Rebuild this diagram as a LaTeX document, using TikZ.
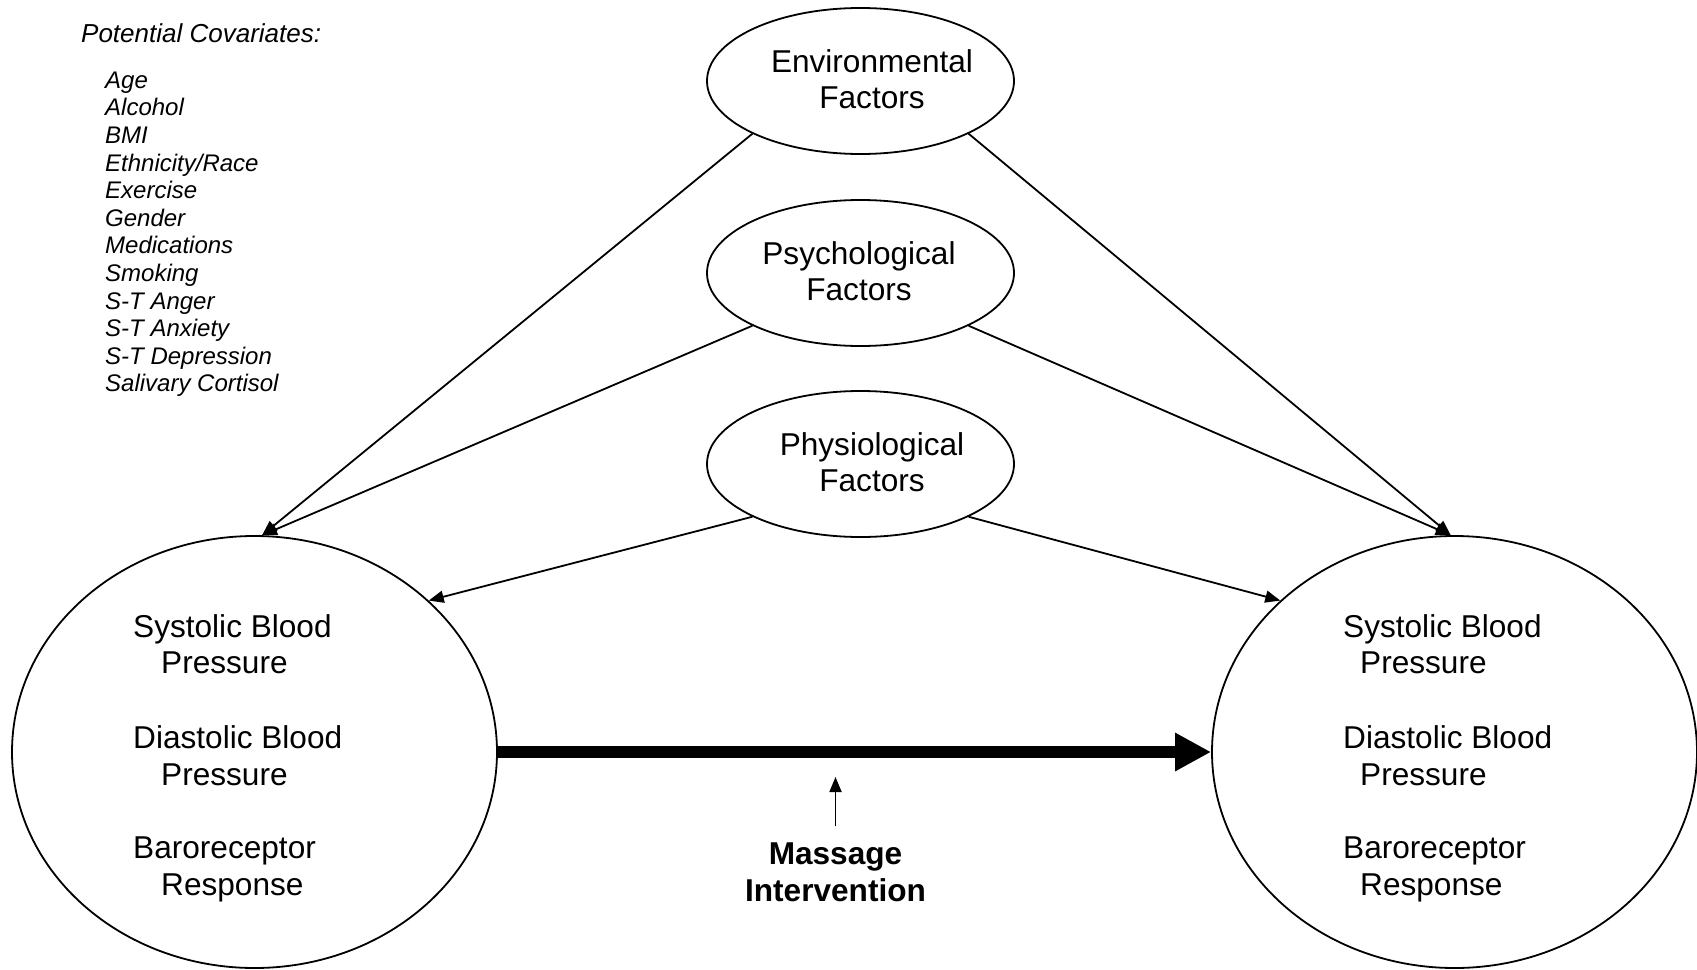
\documentclass[tikz,border=0pt]{standalone}
\usepackage{fontspec}
\setmainfont{Liberation Sans}
\usetikzlibrary{shapes.geometric,arrows.meta}
\begin{document}
\begin{tikzpicture}[x=1pt,y=-1pt,
  ell/.style={draw, ellipse, line width=1.8pt, inner sep=0pt},
  small/.style={ell, minimum width=307pt, minimum height=146pt},
  big/.style={ell, minimum width=485pt, minimum height=432pt},
  lbl/.style={inner sep=0pt, anchor=base, font=\fontsize{31.6}{34}\selectfont},
  lbll/.style={inner sep=0pt, anchor=base west, font=\fontsize{31.6}{34}\selectfont},
  covh/.style={inner sep=0pt, anchor=base west, font=\fontsize{26}{28}\selectfont\itshape},
  cov/.style={inner sep=0pt, anchor=base west, font=\fontsize{24}{27}\selectfont\itshape},
  thinarr/.style={line width=1.8pt, -{Triangle[length=15pt,width=12pt]}},
  thickarr/.style={line width=12.3pt, -{Triangle[length=36pt,width=36pt]}},
]
\useasboundingbox (0,0) rectangle (1697,969);

% ellipses
\node[small] (env) at (860.5,81) {};
\node[small] (psy) at (860.5,273) {};
\node[small] (phy) at (860.5,464) {};
\node[big] (pre) at (254.5,752) {};
\node[big] (post) at (1454.5,752) {};

% ellipse labels
\node[lbl] (envA) at (872,72.7) {Environmental};
\node[lbl] (envB) at (872,108.5) {Factors};
\node[lbl] (psyA) at (859,264) {Psychological};
\node[lbl] (psyB) at (859,300) {Factors};
\node[lbl] (phyA) at (872,455) {Physiological};
\node[lbl] (phyB) at (872,491.5) {Factors};

\node[lbll] (preA) at (133,637) {Systolic Blood};
\node[lbll] (preB) at (161,673) {Pressure};
\node[lbll] (preC) at (133,748) {Diastolic Blood};
\node[lbll] (preD) at (161,785) {Pressure};
\node[lbll] (preE) at (133,858) {Baroreceptor};
\node[lbll] (preF) at (161,895) {Response};

\node[lbll] (postA) at (1343,637) {Systolic Blood};
\node[lbll] (postB) at (1360,673) {Pressure};
\node[lbll] (postC) at (1343,748) {Diastolic Blood};
\node[lbll] (postD) at (1360,785) {Pressure};
\node[lbll] (postE) at (1343,858) {Baroreceptor};
\node[lbll] (postF) at (1360,895) {Response};

% covariates
\node[covh] (covh) at (81,42.7) {Potential Covariates:};
\foreach \t [count=\i from 0] in {Age,Alcohol,BMI,Ethnicity/Race,Exercise,Gender,Medications,Smoking,S-T Anger,S-T Anxiety,S-T Depression,Salivary Cortisol}
  \node[cov] (cov\i) at (105,88.3+27.6*\i) {\t};

% massage
\node[lbl, font=\fontsize{31.6}{34}\selectfont\bfseries] (mas) at (835.5,864) {Massage};
\node[lbl, font=\fontsize{31.6}{34}\selectfont\bfseries] (int) at (835.5,901) {Intervention};
\coordinate (mfoot) at (835.5,826);
\coordinate (mtip) at (835.5,777);

% connectors
\draw[thinarr] (env.206) -- (pre.88);
\draw[thinarr] (env.334) -- (post.91);
\draw[thinarr] (psy.206) -- (pre.88);
\draw[thinarr] (psy.334) -- (post.91);
\draw[thinarr] (phy.206) -- (pre.41);
\draw[thinarr] (phy.334) -- (post.139);
\draw[thickarr] (pre.east) -- (post.west);
\draw[thinarr] (mfoot) -- (mtip);
\end{tikzpicture}
\end{document}
